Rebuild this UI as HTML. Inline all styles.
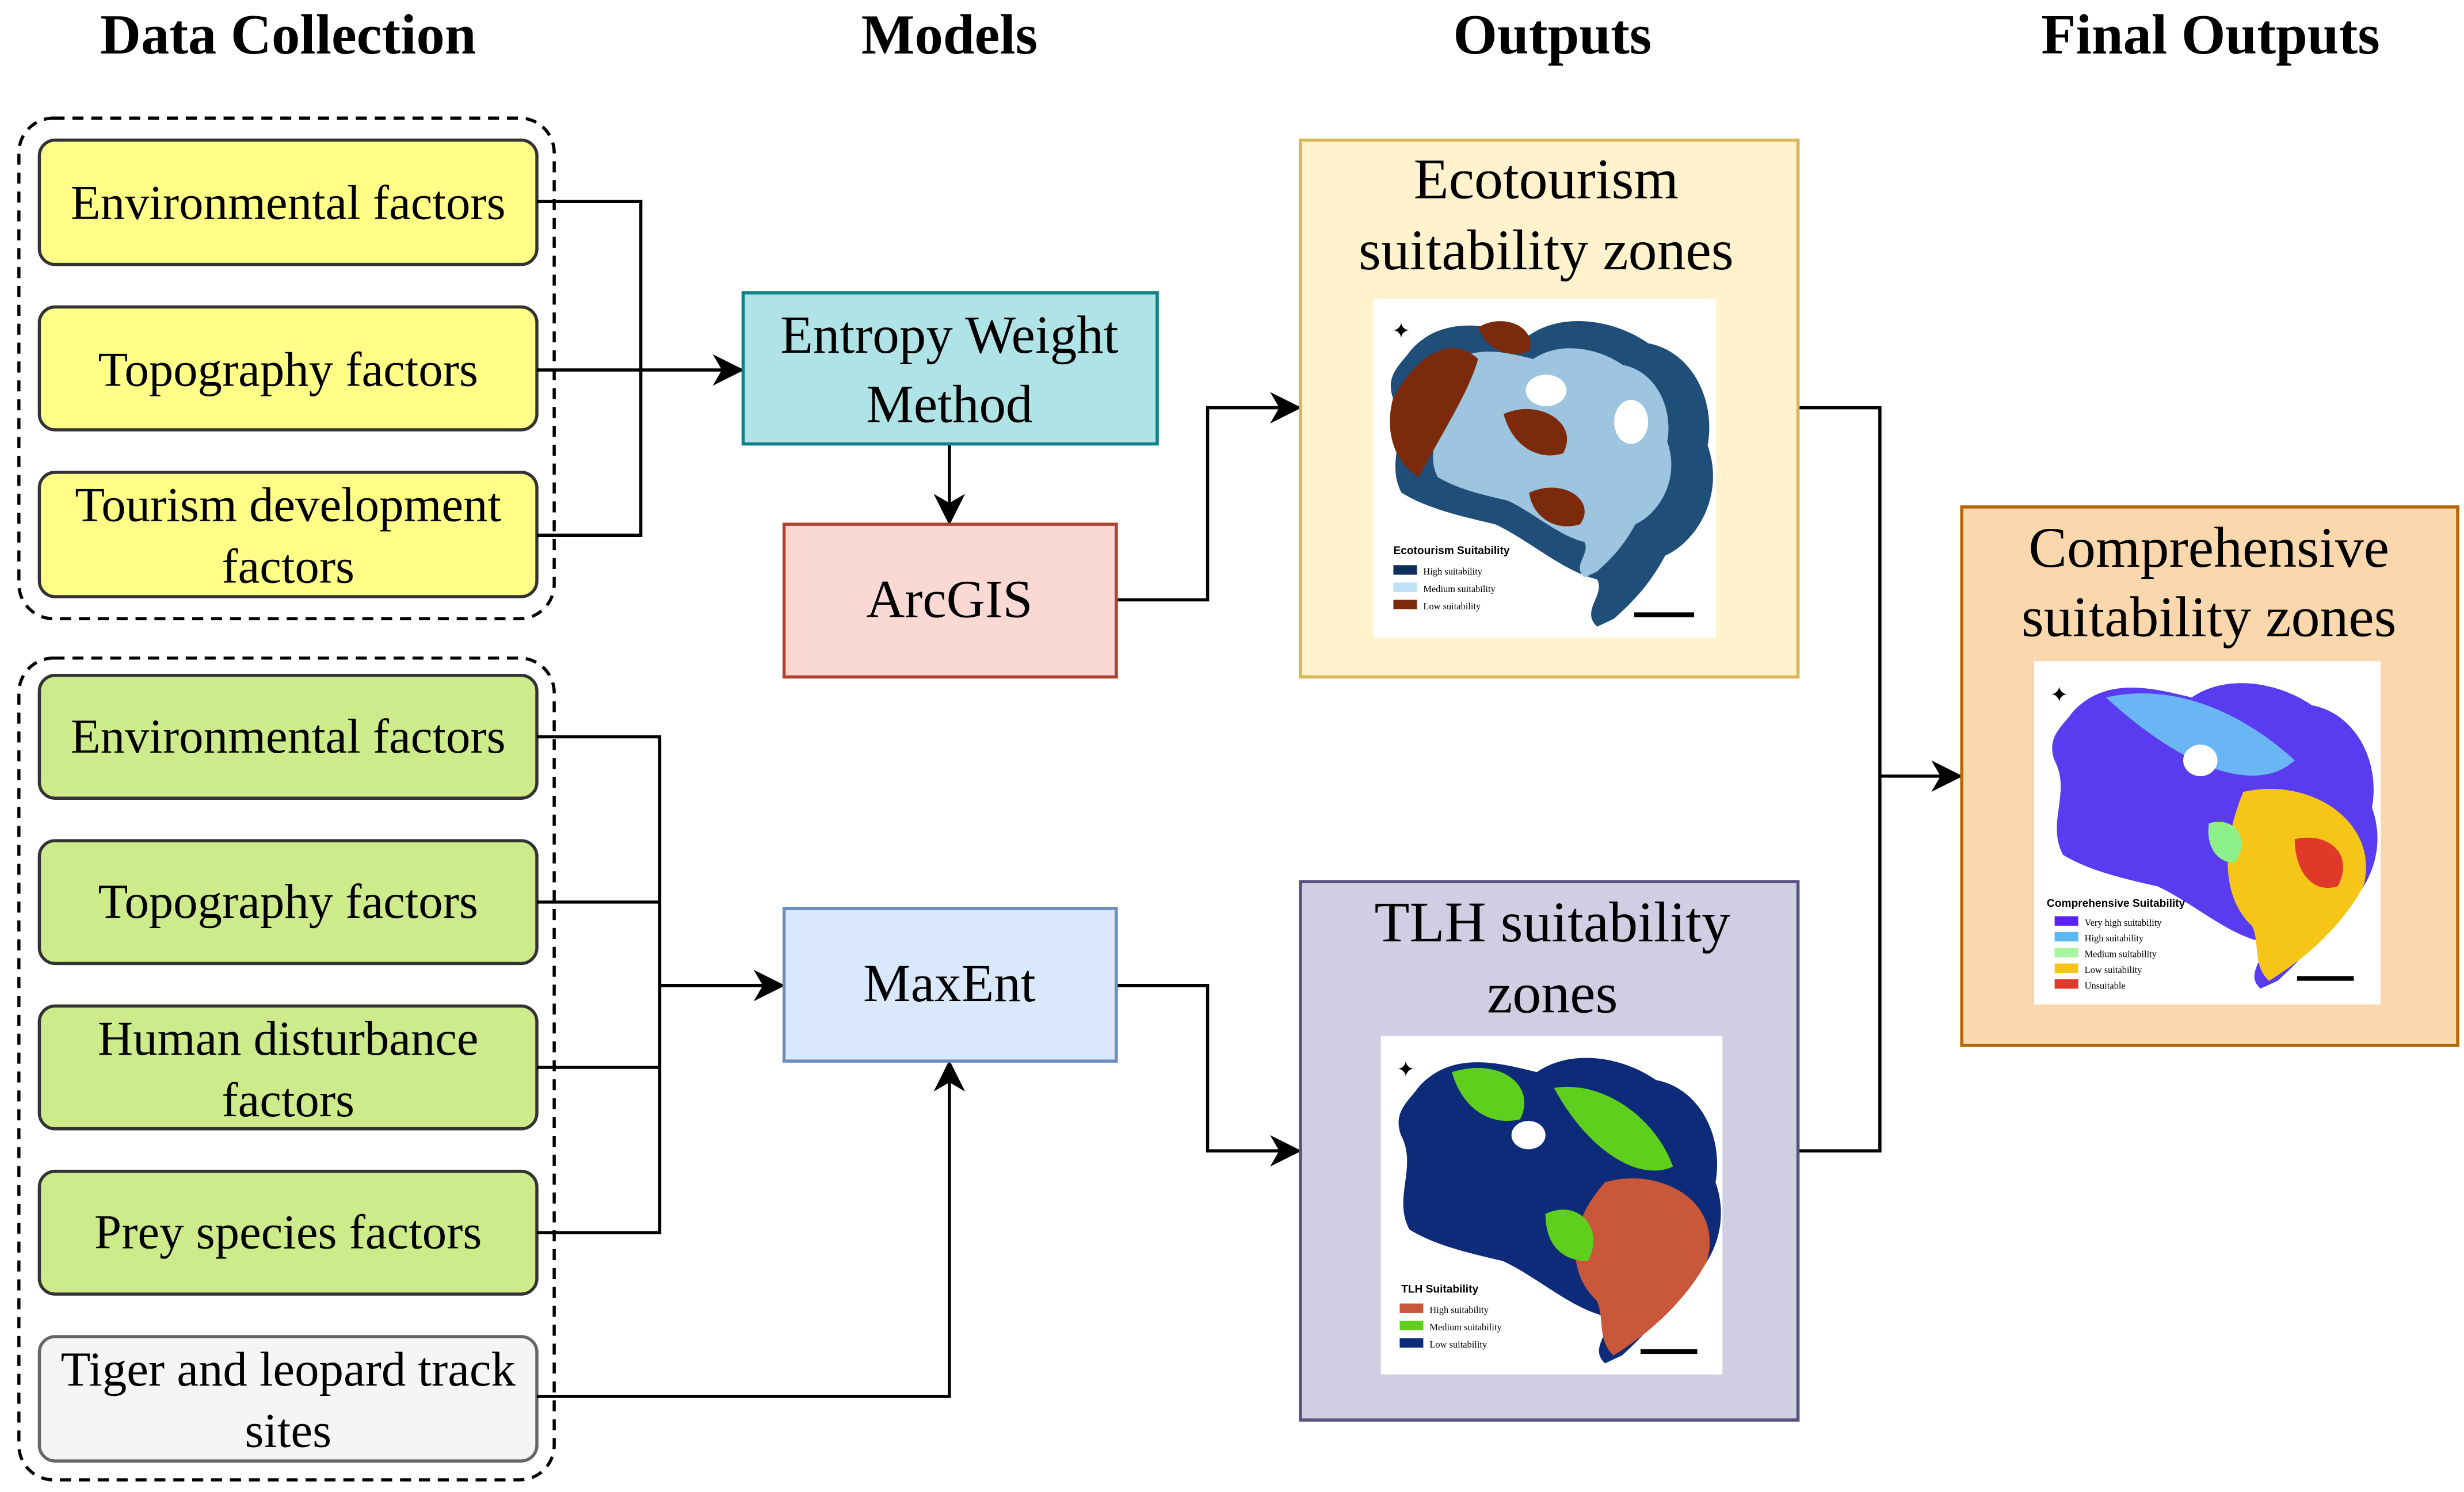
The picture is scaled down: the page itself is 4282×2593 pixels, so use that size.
<!DOCTYPE html>
<html><head><meta charset="utf-8"><style>
html,body{margin:0;padding:0;background:#fff;}
svg{display:block;}
text{font-family:"Liberation Serif",serif;fill:#000;}
.h{font-weight:bold;font-size:36px;}
.t{font-size:31px;}
.b{font-size:36.5px;}
.m{font-size:34px;}
.lg{font-family:"Liberation Serif",serif;font-size:6px;}
</style></head><body>
<svg width="4282" height="2593" viewBox="0 0 1565 947.7" preserveAspectRatio="none" xmlns="http://www.w3.org/2000/svg">
<defs>
<marker id="A" viewBox="0 0 12 12" markerWidth="20" markerHeight="20" refX="11" refY="6" orient="auto" markerUnits="userSpaceOnUse"><path d="M0,0 L12,6 L0,12 L3.5,6 Z" fill="#000"/></marker>
<path id="blob" d="M20,30 C40,5 70,15 90,20 C110,5 140,10 160,25 C185,30 200,60 195,90 C205,120 190,150 170,160 C160,180 150,190 140,200 L130,205 C120,195 135,185 130,175 C110,170 90,150 70,140 C50,135 30,130 15,120 C5,100 20,80 10,60 C5,45 15,38 20,30 Z"/>
</defs>
<text class="h" x="183" y="34" text-anchor="middle">Data Collection</text>
<text class="h" x="603" y="34" text-anchor="middle">Models</text>
<text class="h" x="986" y="34" text-anchor="middle">Outputs</text>
<text class="h" x="1404" y="34" text-anchor="middle">Final Outputs</text>

<rect x="12" y="75" width="340" height="318" rx="22" fill="none" stroke="#000" stroke-width="2" stroke-dasharray="7,5"/>
<rect x="12" y="418" width="340" height="522" rx="22" fill="none" stroke="#000" stroke-width="2" stroke-dasharray="7,5"/>

<g stroke="#333" stroke-width="2">
<rect x="25" y="89" width="316" height="79" rx="10" fill="#ffff88"/>
<rect x="25" y="195" width="316" height="78" rx="10" fill="#ffff88"/>
<rect x="25" y="300" width="316" height="79" rx="10" fill="#ffff88"/>
<rect x="25" y="429" width="316" height="78" rx="10" fill="#cdeb8b"/>
<rect x="25" y="534" width="316" height="78" rx="10" fill="#cdeb8b"/>
<rect x="25" y="639" width="316" height="78" rx="10" fill="#cdeb8b"/>
<rect x="25" y="744" width="316" height="78" rx="10" fill="#cdeb8b"/>
<rect x="25" y="849" width="316" height="79" rx="10" fill="#f5f5f5" stroke="#666"/>
</g>
<text class="t" x="183" y="139" text-anchor="middle">Environmental factors</text>
<text class="t" x="183" y="245" text-anchor="middle">Topography factors</text>
<text class="t" x="183" y="331" text-anchor="middle">Tourism development</text>
<text class="t" x="183" y="370" text-anchor="middle">factors</text>
<text class="t" x="183" y="478" text-anchor="middle">Environmental factors</text>
<text class="t" x="183" y="583" text-anchor="middle">Topography factors</text>
<text class="t" x="183" y="670" text-anchor="middle">Human disturbance</text>
<text class="t" x="183" y="709" text-anchor="middle">factors</text>
<text class="t" x="183" y="793" text-anchor="middle">Prey species factors</text>
<text class="t" x="183" y="880" text-anchor="middle" fill="#333">Tiger and leopard track</text>
<text class="t" x="183" y="919" text-anchor="middle" fill="#333">sites</text>

<g fill="none" stroke="#000" stroke-width="2">
<path d="M341,128 H407 V340 H341"/>
<path d="M341,235 H471" marker-end="url(#A)"/>
<path d="M603,282 V332" marker-end="url(#A)"/>
<path d="M709,381 H767 V259 H825" marker-end="url(#A)"/>
<path d="M341,468 H419 V783 H341 M341,573 H419 M341,678 H419"/>
<path d="M419,626 H497" marker-end="url(#A)"/>
<path d="M341,887 H603 V675" marker-end="url(#A)"/>
<path d="M709,626 H767 V731 H825" marker-end="url(#A)"/>
<path d="M1142,259 H1194 V731 H1142"/>
<path d="M1194,493 H1245" marker-end="url(#A)"/>
</g>

<rect x="472" y="186" width="263" height="96" fill="#b0e3e6" stroke="#0e8088" stroke-width="2"/>
<text class="m" x="603" y="224" text-anchor="middle">Entropy Weight</text>
<text class="m" x="603" y="268" text-anchor="middle">Method</text>
<rect x="498" y="333" width="211" height="97" fill="#fad9d5" stroke="#ae4132" stroke-width="2"/>
<text class="m" x="603" y="392" text-anchor="middle">ArcGIS</text>
<rect x="498" y="577" width="211" height="97" fill="#dae8fc" stroke="#6c8ebf" stroke-width="2"/>
<text class="m" x="603" y="636" text-anchor="middle">MaxEnt</text>

<rect x="826" y="89" width="316" height="341" fill="#fff2cc" stroke="#d6b656" stroke-width="2"/>
<text class="b" x="982" y="126" text-anchor="middle">Ecotourism</text>
<text class="b" x="982" y="171" text-anchor="middle">suitability zones</text>
<rect x="872" y="190" width="218" height="215" fill="#fff"/>
<g transform="translate(874,193) scale(1.08,1.0)">
<use href="#blob" fill="#1f4e79"/>
<use href="#blob" fill="#9ec5e0" transform="translate(25,20) scale(0.75)"/>
<path d="M10,60 C25,30 45,20 60,35 C55,55 40,80 25,110 C10,100 5,80 10,60 Z" fill="#7b2a0c"/>
<path d="M75,70 C95,60 120,75 110,95 C95,100 80,90 75,70 Z" fill="#7b2a0c"/>
<path d="M90,120 C110,110 130,125 120,140 C105,145 92,135 90,120 Z" fill="#7b2a0c"/>
<path d="M60,15 C75,5 95,15 90,30 C80,35 65,30 60,15 Z" fill="#7b2a0c"/>
<ellipse cx="100" cy="55" rx="12" ry="10" fill="#fff"/>
<ellipse cx="150" cy="75" rx="10" ry="14" fill="#fff"/>
</g>
<text x="885" y="352" style="font-family:'Liberation Sans',sans-serif;font-size:7px;font-weight:bold">Ecotourism Suitability</text>
<rect x="885" y="359" width="15" height="6" fill="#0b2e5c"/><text class="lg" x="904" y="365">High suitability</text>
<rect x="885" y="370" width="15" height="6" fill="#bfe0f5"/><text class="lg" x="904" y="376">Medium suitability</text>
<rect x="885" y="381" width="15" height="6" fill="#7b2a0c"/><text class="lg" x="904" y="387">Low suitability</text>
<rect x="1038" y="389" width="38" height="3" fill="#000"/>
<text x="884" y="215" style="font-size:14px">✦</text>

<rect x="826" y="560" width="316" height="342" fill="#d0cee2" stroke="#56517e" stroke-width="2"/>
<text class="b" x="986" y="598" text-anchor="middle">TLH suitability</text>
<text class="b" x="986" y="643" text-anchor="middle">zones</text>
<rect x="877" y="658" width="217" height="215" fill="#fff"/>
<g transform="translate(879,661) scale(1.08,1.0)">
<use href="#blob" fill="#0d2b78"/>
<path d="M40,20 C70,10 90,30 80,50 C60,55 45,40 40,20 Z" fill="#5fcf1e"/>
<path d="M100,30 C130,25 160,50 170,80 C150,90 120,70 100,30 Z" fill="#5fcf1e"/>
<path d="M130,90 C160,80 200,100 190,140 C175,170 150,190 135,200 C125,190 130,175 125,165 C110,150 105,120 130,90 Z" fill="#c9573a"/>
<path d="M95,110 C115,100 130,120 120,140 C105,140 95,130 95,110 Z" fill="#5fcf1e"/>
<ellipse cx="85" cy="60" rx="10" ry="9" fill="#fff"/>
</g>
<text x="890" y="821" style="font-family:'Liberation Sans',sans-serif;font-size:7px;font-weight:bold">TLH Suitability</text>
<rect x="889" y="828" width="15" height="6" fill="#c9573a"/><text class="lg" x="908" y="834">High suitability</text>
<rect x="889" y="839" width="15" height="6" fill="#5fcf1e"/><text class="lg" x="908" y="845">Medium suitability</text>
<rect x="889" y="850" width="15" height="6" fill="#0d2b78"/><text class="lg" x="908" y="856">Low suitability</text>
<rect x="1042" y="857" width="36" height="3" fill="#000"/>
<text x="887" y="684" style="font-size:14px">✦</text>

<rect x="1246" y="322" width="315" height="342" fill="#fad7ac" stroke="#b46504" stroke-width="2"/>
<text class="b" x="1403" y="360" text-anchor="middle">Comprehensive</text>
<text class="b" x="1403" y="404" text-anchor="middle">suitability zones</text>
<rect x="1292" y="420" width="220" height="218" fill="#fff"/>
<g transform="translate(1294,423) scale(1.09,1.0)">
<use href="#blob" fill="#5a3cf0"/>
<path d="M40,20 C80,10 120,30 150,60 C130,80 90,70 40,20 Z" fill="#6ab6f5"/>
<path d="M120,80 C160,70 200,100 190,140 C175,170 150,190 135,200 C125,190 130,175 125,165 C110,150 105,120 120,80 Z" fill="#f5c518"/>
<path d="M150,110 C170,105 185,120 175,140 C160,145 150,130 150,110 Z" fill="#e0392a"/>
<path d="M100,100 C115,95 125,110 115,125 C105,125 98,115 100,100 Z" fill="#8ef08a"/>
<ellipse cx="95" cy="60" rx="10" ry="10" fill="#fff"/>
</g>
<text x="1300" y="576" style="font-family:'Liberation Sans',sans-serif;font-size:7px;font-weight:bold">Comprehensive Suitability</text>
<rect x="1305" y="582" width="15" height="6" fill="#5a20f5"/><text class="lg" x="1324" y="588">Very high suitability</text>
<rect x="1305" y="592" width="15" height="6" fill="#5ab8f5"/><text class="lg" x="1324" y="598">High suitability</text>
<rect x="1305" y="602" width="15" height="6" fill="#a8f5a0"/><text class="lg" x="1324" y="608">Medium suitability</text>
<rect x="1305" y="612" width="15" height="6" fill="#f5c518"/><text class="lg" x="1324" y="618">Low suitability</text>
<rect x="1305" y="622" width="15" height="6" fill="#e0392a"/><text class="lg" x="1324" y="628">Unsuitable</text>
<rect x="1459" y="620" width="36" height="3" fill="#000"/>
<text x="1302" y="446" style="font-size:14px">✦</text>
</svg>
</body></html>
